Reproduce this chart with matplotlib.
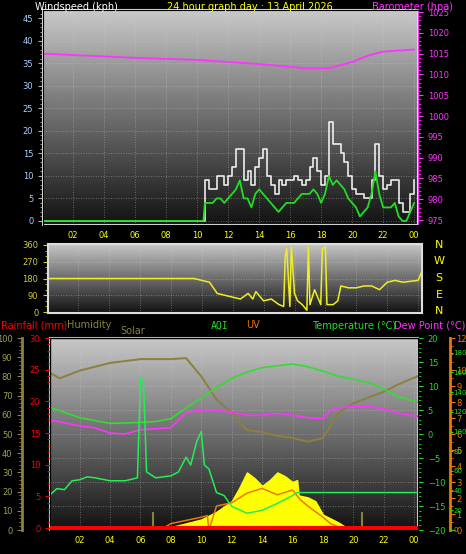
import numpy as np
import matplotlib
matplotlib.use('Agg')
import matplotlib.pyplot as plt

# ---- data ----
wind_hours = [0, 10.4, 10.5, 10.75, 11, 11.25, 11.5, 11.75, 12, 12.25, 12.5, 12.75, 13, 13.25, 13.5, 13.75,
              14, 14.25, 14.5, 14.75, 15, 15.25, 15.5, 15.75, 16, 16.25, 16.5, 16.75, 17, 17.25, 17.5, 17.75,
              18, 18.25, 18.5, 18.75, 19, 19.25, 19.5, 19.75, 20, 20.25, 20.5, 20.75, 21, 21.25, 21.5, 21.75,
              22, 22.25, 22.5, 22.75, 23, 23.25, 23.5, 23.75, 24]
wind_avg = [0, 0, 4, 4, 4, 5, 5, 4, 5, 6, 7, 9, 5, 5, 3, 6, 7, 6, 5, 4, 3, 2, 3, 4, 4, 4, 5, 6, 6, 6, 7, 6,
            4, 6, 10, 8, 9, 8, 7, 5, 4, 3, 1, 2, 3, 6, 11, 6, 3, 3, 3, 4, 1, 0, 0, 2, 4]
wind_gust = [0, 0, 9, 7, 7, 10, 10, 8, 10, 12, 16, 16, 9, 11, 8, 12, 14, 16, 10, 8, 6, 9, 8, 9, 9, 10, 9, 8,
             9, 12, 14, 11, 8, 10, 22, 17, 17, 15, 13, 10, 7, 6, 6, 5, 5, 9, 17, 10, 7, 8, 9, 9, 4, 2, 2, 6, 9]

baro_hours = [0, 3, 6, 10, 14, 17, 18.5, 20, 21, 22, 24]
baro = [1015, 1014.5, 1014, 1013.5, 1012.5, 1011.5, 1011.5, 1013, 1014.5, 1015.5, 1016]

dir_hours = [0, 9.5, 10, 10.5, 11, 11.5, 12, 12.5, 13, 13.3, 13.5, 14, 14.5, 15, 15.3, 15.4, 15.5, 15.7,
             15.8, 16, 16.2, 16.5, 16.8, 16.9, 17, 17.3, 17.7, 17.8, 18, 18.1, 18.5, 18.8, 19, 19.5, 20,
             20.5, 21, 21.5, 22, 22.5, 23, 23.5, 24, 24.2]
wind_dir = [180, 180, 170, 160, 100, 90, 80, 70, 100, 70, 110, 60, 70, 40, 30, 300, 340, 30, 350, 100, 60,
            40, 10, 350, 40, 120, 40, 340, 350, 40, 40, 60, 140, 130, 130, 140, 140, 120, 160, 170, 160,
            165, 170, 210]

hum_hours = [0, 0.7, 2, 4, 6, 8, 9, 10, 11, 12, 13, 14, 15, 16, 17, 18, 18.5, 19, 20, 21, 22, 23, 24.2]
humidity = [82, 79, 83, 87, 89, 89, 89.5, 80, 68, 61, 52, 51, 49, 48, 46, 48, 54, 61, 66, 69, 72, 76, 80]

temp_hours = [0, 2, 4, 6, 7, 8, 9, 10, 11, 12, 13, 14, 15, 16, 17, 18, 19, 20, 21, 22, 23, 24.2]
temperature = [5.6, 3.4, 2.2, 2.4, 2.6, 3.2, 5.4, 7.5, 9.7, 11.6, 12.9, 13.8, 14.2, 14.6, 14, 13.1, 12,
               11.4, 10.7, 9.4, 7.7, 6.7]

dew_hours = [0, 2, 3, 4, 5, 6, 7, 8, 9, 10, 11, 12, 13, 14, 15, 16, 17, 18, 18.5, 19, 20, 21, 22, 23, 24.2]
dew_point = [3, 1.7, 1.3, 0.2, 0, 0.9, 1.1, 1.3, 4.5, 5, 5, 4.5, 3.9, 3.9, 4.3, 3.9, 3.4, 3.2, 5, 5.4,
             5.8, 5.8, 5.2, 4.3, 3.7]

aqi_hours = [0, 0.5, 1, 1.5, 2, 2.5, 3, 4, 5, 5.8, 6, 6.2, 6.4, 7, 8, 8.5, 9, 9.3, 9.7, 10, 10.2, 10.5, 11,
             11.5, 12, 13, 14, 15, 16, 16.3, 24.2]
aqi = [35, 42, 41, 50, 51, 54, 53, 50, 50, 53, 155, 150, 59, 53, 55, 59, 74, 66, 90, 100, 66, 62, 38,
       35, 24, 17, 20, 27, 35, 38, 38]

uv_hours = [7.3, 8, 9, 10, 10.4, 10.5, 11, 12, 13, 14, 15, 16, 16.5, 17, 18, 18.5, 19.5]
uv = [0, 0.4, 0.6, 0.8, 0.9, 0, 1.5, 1.7, 2.3, 2.6, 2.2, 2.5, 1.9, 1.5, 0.8, 0.4, 0]

solar_hours = [7, 8, 9, 10, 11, 12, 12.5, 13, 13.5, 14, 14.5, 15, 15.5, 16, 16.3, 16.4, 17, 17.5, 18,
               18.5, 19, 19.8]
solar = [0, 15, 35, 55, 95, 150, 220, 300, 270, 230, 260, 300, 280, 250, 260, 180, 170, 150, 80, 60, 40, 0]

rain_hours = [0.1, 24.2]
rain = [0, 0]
mark_hours = [6.8, 20.6]

hour_ticks = list(range(2, 25, 2))
hour_labels = ['%02d' % (h % 24) for h in hour_ticks]

# ---- figure ----
W, H = 466, 554
fig = plt.figure(figsize=(W / 100, H / 100), dpi=100, facecolor='black')
plt.rcParams['font.family'] = 'DejaVu Sans'
fs = 6
YEL = '#ffff00'
XL = (0.05, 24.25)


def px_axes(x0, y0, x1, y1):
    return fig.add_axes([x0 / W, 1 - y1 / H, (x1 - x0) / W, (y1 - y0) / H])


def dress(ax):
    # light grey at top fading to near black at the bottom
    grad = np.linspace(1, 0, 256).reshape(-1, 1)
    ax.imshow(grad, extent=[0, 1, 0, 1], transform=ax.transAxes, cmap='gray',
              vmin=-0.1, vmax=1.3, aspect='auto', zorder=0)
    ax.set_facecolor('black')
    ax.grid(True, color='#d0d0d0', linestyle=(0, (1, 2)), linewidth=0.6, alpha=0.5)
    for s in ax.spines.values():
        s.set_color('#dddddd')
        s.set_linewidth(1.5)
    ax.set_xlim(*XL)
    ax.set_xticks(hour_ticks)
    ax.tick_params(axis='x', colors=YEL, labelsize=fs, length=0, pad=4)
    ax.set_xticklabels(hour_labels, color=YEL)


# ---- top panel: wind and barometer ----
ax1 = px_axes(43, 10, 418, 225)
dress(ax1)
ax1.plot(wind_hours, wind_gust, color='white', lw=1.2, alpha=0.9, drawstyle='steps-post')
ax1.plot(wind_hours, wind_avg, color='#22dd22', lw=1.3)
ax1.set_ylim(-0.9, 46.8)
ax1.set_yticks(range(0, 46, 5))
ax1.set_yticks(range(0, 47), minor=True)
ax1b = ax1.twinx()
ax1b.plot(baro_hours, baro, color='#ff33ff', lw=1.3)
ax1b.set_ylim(973.8, 1025.5)
ax1b.set_yticks(range(975, 1026, 5))
ax1b.set_yticks(range(975, 1026, 1), minor=True)
ax1b.tick_params(axis='y', which='both', colors='#ff33ff', labelsize=fs)
ax1b.tick_params(axis='y', which='minor', length=2)
ax1b.spines['right'].set_color('#ff33ff')
ax1.yaxis.tick_left()
ax1.tick_params(axis='y', which='both', colors='#aaaaaa', labelcolor='#a8d0ff', labelsize=fs)
ax1.tick_params(axis='y', which='minor', length=2)

fig.text(35 / W, 1 - 7 / H, 'Windspeed (kph)', color='white', fontsize=7, va='center')
fig.text(250 / W, 1 - 7 / H, '24 hour graph day : 13 April 2026', color=YEL, fontsize=7, ha='center', va='center')
fig.text(372 / W, 1 - 7 / H, 'Barometer (hpa)', color='#ff33ff', fontsize=7, va='center')

# ---- middle panel: wind direction ----
ax2 = px_axes(48, 244, 422, 313)
dress(ax2)
ax2.plot(dir_hours, wind_dir, color='#eeee22', lw=1.1)
ax2.set_ylim(-5, 365)
ax2.set_yticks([0, 90, 180, 270, 360])
ax2.set_yticks(range(0, 361, 30), minor=True)
ax2.tick_params(axis='y', which='both', colors='#cccc33', labelsize=fs)
ax2.tick_params(axis='x', labelbottom=False)
for lab, yy in zip(['N', 'W', 'S', 'E', 'N'], [245, 261, 278, 295, 311]):
    fig.text(439 / W, 1 - yy / H, lab, color=YEL, fontsize=8, ha='center', va='center')

# ---- bottom panel ----
ax3 = px_axes(50, 338, 418, 530)
dress(ax3)
ax3.set_ylim(-20, 20)
ax3.plot(hum_hours, [h / 2.5 - 20 for h in humidity], color='#8b8040', lw=1.4, zorder=3)
ax3.plot(temp_hours, temperature, color='#33dd33', lw=1.2, zorder=4)
ax3.plot(dew_hours, dew_point, color='#ff33ff', lw=1.2, zorder=4)

sol = ax3.twinx()
sol.fill_between(solar_hours, solar, color=YEL, zorder=1)
sol.set_ylim(0, 1000)
sol.axis('off')

uvax = ax3.twinx()
uvax.plot(uv_hours, uv, color='#ee7700', lw=1.1)
uvax.set_ylim(0, 12)
uvax.set_yticks([0, 1, 2, 3, 4, 5, 6, 7, 8, 9, 10, 12])
uvax.set_yticks(np.arange(0, 12.1, 0.5), minor=True)
uvax.spines['right'].set_position(('outward', 23))
uvax.spines['right'].set_color('#ee7700')
uvax.spines['right'].set_linewidth(2)
uvax.tick_params(axis='y', which='both', colors='#ee7700', labelsize=fs, pad=1)
uvax.tick_params(axis='y', which='minor', length=2)

aqiax = ax3.twinx()
aqiax.plot(aqi_hours, aqi, color='#22ee55', lw=1.1, zorder=5)
aqiax.set_ylim(0, 195)
aqiax.set_yticks(range(0, 181, 20))
aqiax.spines['right'].set_visible(False)
aqiax.spines['right'].set_position(('outward', 23))
aqiax.tick_params(axis='y', colors='#22dd22', labelsize=5, length=2, pad=0.5)

rainax = ax3.twinx()
rainax.plot(rain_hours, rain, color='red', lw=3, zorder=6)
rainax.vlines(mark_hours, 0, 2.5, color='#8b8040', lw=1.5)
rainax.set_ylim(-0.3, 30)
rainax.set_yticks(range(0, 31, 5))
rainax.set_yticks(range(0, 31, 1), minor=True)
rainax.tick_params(axis='y', which='both', left=True, labelleft=True, right=False, labelright=False,
                   colors='red', labelsize=fs)
rainax.tick_params(axis='y', which='minor', length=2)

humax = ax3.twinx()
humax.set_ylim(0, 100)
humax.set_yticks(range(0, 101, 10))
humax.set_yticks(range(0, 101, 2), minor=True)
humax.spines['left'].set_visible(True)
humax.spines['left'].set_position(('outward', 20))
humax.spines['left'].set_color('#8b8040')
humax.spines['left'].set_linewidth(2)
humax.tick_params(axis='y', which='both', left=True, labelleft=True, right=False, labelright=False,
                  colors='#8b8040', labelcolor='#a0a050', labelsize=fs)
humax.tick_params(axis='y', which='minor', length=2)
for a in (sol, uvax, aqiax, rainax, humax):
    a.set_xlim(*XL)

# twinx moves the host's ticks to the left, so put the temperature scale back on the right
ax3.yaxis.tick_right()
ax3.set_yticks(range(-20, 21, 5))
ax3.set_yticks(range(-20, 21, 1), minor=True)
ax3.tick_params(axis='y', which='both', colors='#22dd22', labelsize=fs)
ax3.tick_params(axis='y', which='minor', length=2)

fig.text(1 / W, 1 - 326 / H, 'Rainfall (mm)', color='red', fontsize=7, va='center')
fig.text(67 / W, 1 - 325 / H, 'Humidity', color='#8b8040', fontsize=7, va='center')
fig.text(120 / W, 1 - 331 / H, 'Solar', color='#8b8040', fontsize=7, va='center')
fig.text(211 / W, 1 - 326 / H, 'AQI', color='#22dd22', fontsize=7, va='center', family='DejaVu Sans Mono')
fig.text(246 / W, 1 - 325 / H, 'UV', color='#ee7700', fontsize=7, va='center')
fig.text(312 / W, 1 - 326 / H, 'Temperature (°C)', color='#22dd22', fontsize=7, va='center')
fig.text(394 / W, 1 - 326 / H, 'Dew Point (°C)', color='#ff33ff', fontsize=7, va='center')

fig.savefig('out.png', dpi=100, facecolor='black')
